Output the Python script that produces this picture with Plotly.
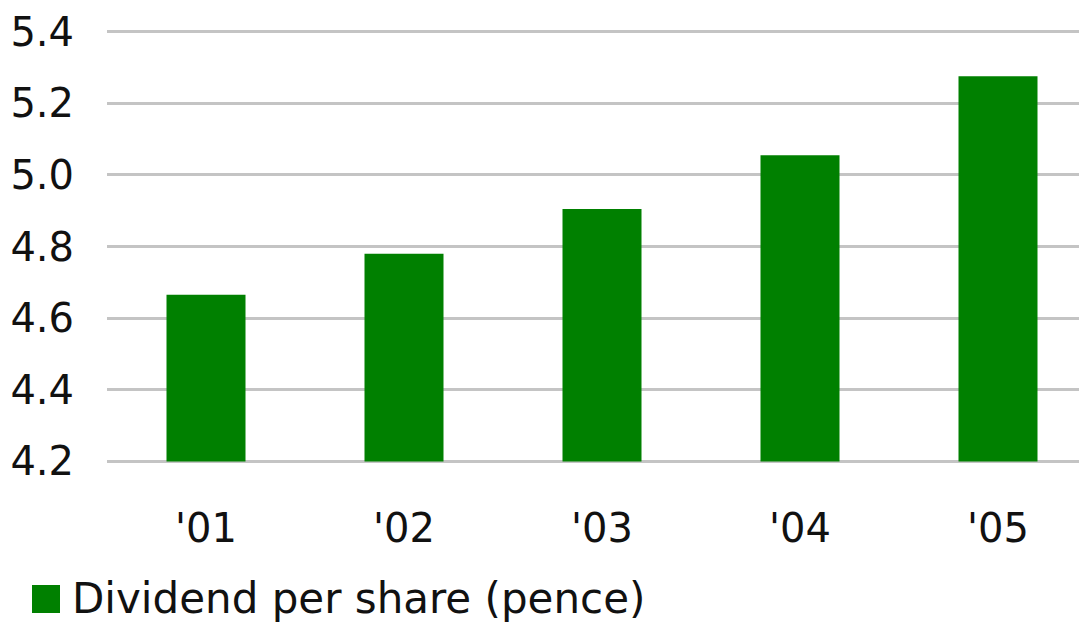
import plotly.graph_objects as go

categories = ["'01", "'02", "'03", "'04", "'05"]
dividend = [4.665, 4.78, 4.905, 5.055, 5.275]
series_name = "Dividend per share (pence)"
y_ticks = [4.2, 4.4, 4.6, 4.8, 5.0, 5.2, 5.4]
y_floor = y_ticks[0]

OFF = 8  # page body margin in the browser
W, H = 1089, 622 - OFF
ml, mr, mt, mb = 107 - OFF, 0, 20, 157
pw, ph = W - ml - mr, H - mt - mb
FONT = "DejaVu Sans"
GREEN = "#008000"
TXT = "#111111"

fig = go.Figure()
fig.add_trace(go.Bar(x=categories, y=[v - y_floor for v in dividend], base=y_floor,
                     name=series_name, customdata=dividend,
                     hovertemplate="%{x}: %{customdata}<extra></extra>",
                     marker=dict(color=GREEN, line=dict(width=0)),
                     showlegend=False))

def px_x(x):
    return (x - OFF - ml) / pw

def px_y(y):
    return (H - mb - (y - OFF)) / ph

fig.add_shape(type="rect", xref="paper", yref="paper",
              x0=px_x(32), x1=px_x(60), y0=px_y(613), y1=px_y(585),
              fillcolor=GREEN, line=dict(width=0))
fig.add_annotation(xref="paper", yref="paper", x=px_x(70), y=px_y(598),
                   xanchor="left", yanchor="middle", showarrow=False,
                   text=series_name, font=dict(family=FONT, size=42, color=TXT))

fig.update_layout(
    width=W, height=H,
    margin=dict(l=ml, r=mr, t=mt, b=mb),
    paper_bgcolor="white", plot_bgcolor="white",
    bargap=0.601,
    font=dict(family=FONT, size=40, color=TXT),
    xaxis=dict(showgrid=False, showline=False, zeroline=False, ticks="",
               ticklabelstandoff=36, tickfont=dict(size=40)),
    yaxis=dict(range=[4.19, 5.41], tickvals=y_ticks, tickformat=".1f",
               showgrid=True, gridcolor="#c4c4c4", gridwidth=3,
               zeroline=False, showline=False, ticks="",
               ticklabelstandoff=32, tickfont=dict(size=40)),
    showlegend=False,
)

fig.write_html("out.html")
